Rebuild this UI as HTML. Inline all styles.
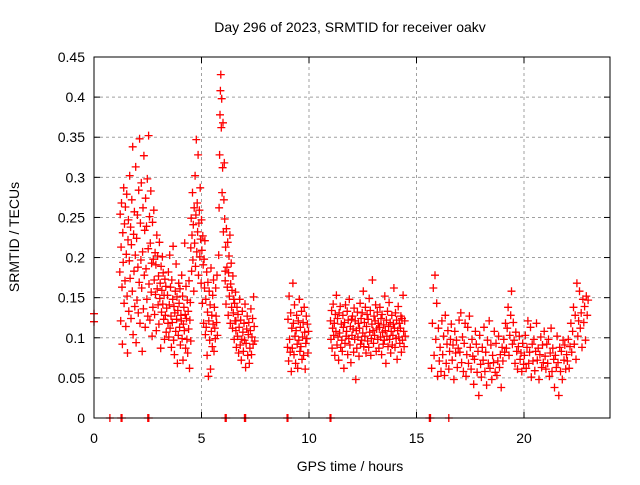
<!DOCTYPE html>
<html><head><meta charset="utf-8"><style>
body{margin:0;background:#fff}
svg text{font-family:"Liberation Sans",sans-serif;font-size:14px;fill:#000}
</style></head><body>
<svg id="chart" width="640" height="480" viewBox="0 0 640 480" xmlns="http://www.w3.org/2000/svg">
<rect width="640" height="480" fill="#fff"/>
<g id="grid"></g>
<g id="axes"></g>
<g id="pts"></g>
<rect x="94" y="57" width="516" height="361" fill="none" stroke="#000" stroke-width="1"/>
<text x="350" y="32" text-anchor="middle">Day 296 of 2023, SRMTID for receiver oakv</text>
<text x="350" y="471" text-anchor="middle">GPS time / hours</text>
<text transform="translate(19,237) rotate(-90)" text-anchor="middle">SRMTID / TECUs</text>
</svg>
<script>
const xTicks=[0,5,10,15,20];
const yTicks=[0,0.05,0.1,0.15,0.2,0.25,0.3,0.35,0.4,0.45];
const yTickLabels=["0","0.05","0.1","0.15","0.2","0.25","0.3","0.35","0.4","0.45"];
const segStart=[0,1.2,3.42,4.5,5.2,5.8,6.1,6.6,9.0,11.0,15.7];
const segStep=[0,0.02,0.02,0.02,0.02,0.02,0.02,0.025,0.025,0.025,0.04];
const seg0=[0.13,0.12];
const seg1=[0.182,0.254,0.121,0.213,0.268,0.163,0.092,0.231,0.194,0.287,0.143,0.242,0.171,0.263,0.114,0.204,0.279,0.152,0.081,0.222,
0.247,0.133,0.196,0.302,0.174,0.238,0.124,0.216,0.272,0.158,0.338,0.104,0.229,0.183,0.257,0.139,0.203,0.313,0.094,0.224,
0.147,0.253,0.188,0.131,0.284,0.169,0.348,0.118,0.243,0.197,0.293,0.162,0.083,0.207,0.262,0.136,0.327,0.178,0.234,0.113,
0.274,0.186,0.239,0.148,0.298,0.127,0.211,0.352,0.167,0.251,0.122,0.218,0.283,0.157,0.193,0.102,0.244,0.138,0.198,0.259,
0.172,0.129,0.206,0.154,0.191,0.109,0.228,0.161,0.202,0.141,0.177,0.117,0.219,0.149,0.168,0.087,0.189,0.132,0.159,0.201,
0.142,0.181,0.123,0.153,0.098,0.173,0.128,0.164,0.107,0.137];
const seg2=[0.153,0.118,0.182,0.101,0.141,0.203,0.112,0.163,0.127,0.088,0.172,0.119,0.148,0.214,0.097,0.139,0.079,0.131,0.158,0.108,
0.192,0.123,0.151,0.068,0.134,0.103,0.168,0.143,0.113,0.161,0.091,0.128,0.121,0.178,0.099,0.152,0.072,0.117,0.138,0.109,
0.218,0.129,0.087,0.164,0.124,0.098,0.147,0.081,0.133,0.111,0.171,0.062,0.122,0.144,0.096];
const seg3=[0.212,0.249,0.183,0.228,0.281,0.197,0.241,0.158,0.262,0.218,0.302,0.189,0.253,0.347,0.207,0.268,0.232,0.328,0.178,0.243,
0.259,0.201,0.287,0.223,0.168,0.247,0.209,0.143,0.227,0.191,0.118,0.198,0.162,0.221,0.104];
const seg4=[0.148,0.113,0.182,0.078,0.132,0.169,0.052,0.121,0.158,0.097,0.141,0.061,0.187,0.108,0.128,0.089,0.153,0.117,0.172,0.083,
0.138,0.112,0.099,0.162,0.127,0.119,0.178,0.103];
const seg5=[0.203,0.262,0.328,0.378,0.408,0.428,0.362,0.398,0.281,0.312,0.368,0.232,0.272,0.318,0.248,0.183];
const seg6=[0.171,0.213,0.142,0.236,0.188,0.163,0.219,0.128,0.181,0.202,0.152,0.228,0.118,0.167,0.193,0.138,0.159,0.112,0.177,0.131,0.148,0.098,0.143,0.121,0.157,0.109];
const seg7=[0.121,0.088,0.138,0.102,0.129,0.081,0.113,0.148,0.091,0.122,0.072,0.098,0.133,0.107,0.083,0.118,0.097,0.142,0.063,0.093,
0.111,0.127,0.078,0.104,0.119,0.068,0.087,0.109,0.136,0.079,0.101,0.124,0.092,0.151,0.114,0.096];
const seg8=[0.088,0.123,0.071,0.152,0.098,0.082,0.131,0.058,0.112,0.087,0.168,0.118,0.079,0.141,0.102,0.068,0.109,0.128,0.092,0.062,
0.121,0.097,0.148,0.083,0.113,0.089,0.133,0.073,0.101,0.119,0.078,0.138,0.107,0.061,0.093,0.127,0.099,0.117,0.081,0.108];
const seg9=[0.121,0.098,0.134,0.087,0.112,0.142,0.103,0.118,0.078,0.129,0.108,0.153,0.091,0.124,0.101,0.072,0.131,0.106,0.139,0.088,
0.117,0.097,0.083,0.128,0.113,0.062,0.119,0.093,0.141,0.102,0.108,0.133,0.079,0.122,0.099,0.148,0.091,0.114,0.069,0.123,
0.103,0.127,0.111,0.082,0.137,0.098,0.121,0.048,0.109,0.087,0.132,0.101,0.118,0.077,0.112,0.143,0.092,0.124,0.097,0.131,
0.106,0.158,0.089,0.119,0.102,0.138,0.081,0.114,0.129,0.096,0.123,0.088,0.149,0.107,0.134,0.078,0.099,0.117,0.172,0.109,
0.093,0.127,0.103,0.121,0.141,0.083,0.111,0.132,0.098,0.118,0.087,0.113,0.138,0.101,0.124,0.079,0.129,0.107,0.092,0.116,
0.097,0.152,0.109,0.068,0.122,0.102,0.133,0.089,0.114,0.144,0.098,0.119,0.081,0.108,0.128,0.091,0.103,0.117,0.162,0.112,
0.088,0.131,0.099,0.122,0.073,0.109,0.139,0.101,0.118,0.093,0.112,0.127,0.082,0.124,0.097,0.153,0.108,0.089,0.121,0.102];
const seg10=[0.062,0.118,0.162,0.078,0.178,0.098,0.143,0.052,0.112,0.071,
0.088,0.058,0.121,0.079,0.102,0.053,0.128,0.068,0.092,0.109,0.061,0.083,0.098,0.117,0.072,0.091,0.048,0.108,0.081,0.097,0.063,0.087,0.122,
0.082,0.131,0.069,0.101,0.058,0.093,0.118,0.052,0.079,0.113,0.068,0.127,0.088,0.061,0.098,0.077,0.042,0.073,0.108,0.092,0.057,0.083,0.028,0.103,0.067,
0.051,0.088,0.072,0.113,0.058,0.082,0.041,0.097,0.068,0.121,0.062,0.091,0.048,0.078,0.069,0.108,0.057,0.093,0.053,0.071,0.102,0.063,0.079,0.038,0.088,
0.071,0.098,0.082,0.118,0.087,0.112,0.138,0.078,0.103,0.128,0.158,0.092,0.119,0.097,0.068,0.107,0.083,0.061,0.089,0.102,0.073,0.081,0.058,0.093,0.067,
0.078,0.103,0.062,0.088,0.121,0.068,0.082,0.113,0.051,0.092,0.071,0.098,0.059,0.083,0.118,0.072,0.087,0.048,0.079,0.101,0.063,0.091,0.069,0.108,0.077,
0.061,0.092,0.068,0.098,0.052,0.081,0.112,0.058,0.087,0.073,0.038,0.078,0.063,0.102,0.069,0.028,0.088,0.058,0.083,0.048,0.097,0.072,0.091,0.061,0.079,
0.071,0.098,0.062,0.089,0.118,0.082,0.108,0.138,0.092,0.128,0.073,0.168,0.102,0.121,0.158,0.112,0.131,0.088,0.148,0.119,0.139,0.097,0.152,0.128,0.147];
const segVals=[seg0,seg1,seg2,seg3,seg4,seg5,seg6,seg7,seg8,seg9,seg10];
const zeroTimes=[0.74,1.26,1.3,2.5,2.55,6.1,6.15,7.0,7.05,8.98,9.02,10.98,11.02,15.6,15.65,16.5];

const X0=94,X1=610,Y0=418,Y1=57,XMAX=24,YMAX=0.45;
function sx(t){return X0+(X1-X0)*t/XMAX;}
function sy(v){return Y0-(Y0-Y1)*v/YMAX;}
const NS="http://www.w3.org/2000/svg";
const grid=document.getElementById('grid'),axes=document.getElementById('axes'),pts=document.getElementById('pts');
function mk(tag,attrs,parent){const e=document.createElementNS(NS,tag);for(const k in attrs)e.setAttribute(k,attrs[k]);parent.appendChild(e);return e;}
yTicks.forEach((v,i)=>{
  const y=sy(v);
  if(i>0&&i<yTicks.length-1){const g=mk('line',{x1:X0,x2:X1,y1:y,y2:y,stroke:'#a0a0a0','stroke-dasharray':'3,3'},grid);
  
  }
  const t1=mk('line',{x1:X0,x2:X0+6,y1:y,y2:y,stroke:'#000'},axes);
  
  
  const t2=mk('line',{x1:X1-6,x2:X1,y1:y,y2:y,stroke:'#000'},axes);
  
  
  const tx=mk('text',{x:85,y:y+5,'text-anchor':'end'},axes);tx.textContent=yTickLabels[i];
  
  
});
xTicks.forEach(v=>{
  const x=sx(v);
  if(v>0){const g=mk('line',{x1:x,x2:x,y1:Y0,y2:Y1,stroke:'#a0a0a0','stroke-dasharray':'3,3'},grid);
  
  }
  const t1=mk('line',{x1:x,x2:x,y1:Y0,y2:Y0-6,stroke:'#000'},axes);
  
  
  const t2=mk('line',{x1:x,x2:x,y1:Y1,y2:Y1+6,stroke:'#000'},axes);
  
  
  const tx=mk('text',{x:x,y:443,'text-anchor':'middle'},axes);tx.textContent=String(v);
  
  
});
let d='';
function plus(t,v){const x=sx(t),y=sy(v);d+=`M${(x-4).toFixed(1)} ${y.toFixed(1)}h8M${x.toFixed(1)} ${(y-4).toFixed(1)}v8`;}
segVals.forEach((vals,s)=>{vals.forEach((v,i)=>plus(segStart[s]+segStep[s]*i,v));});
zeroTimes.forEach(t=>plus(t,0));
const p=mk('path',{d:d,stroke:'#ff0000','stroke-width':1.3,fill:'none'},pts);


</script>
</body></html>
